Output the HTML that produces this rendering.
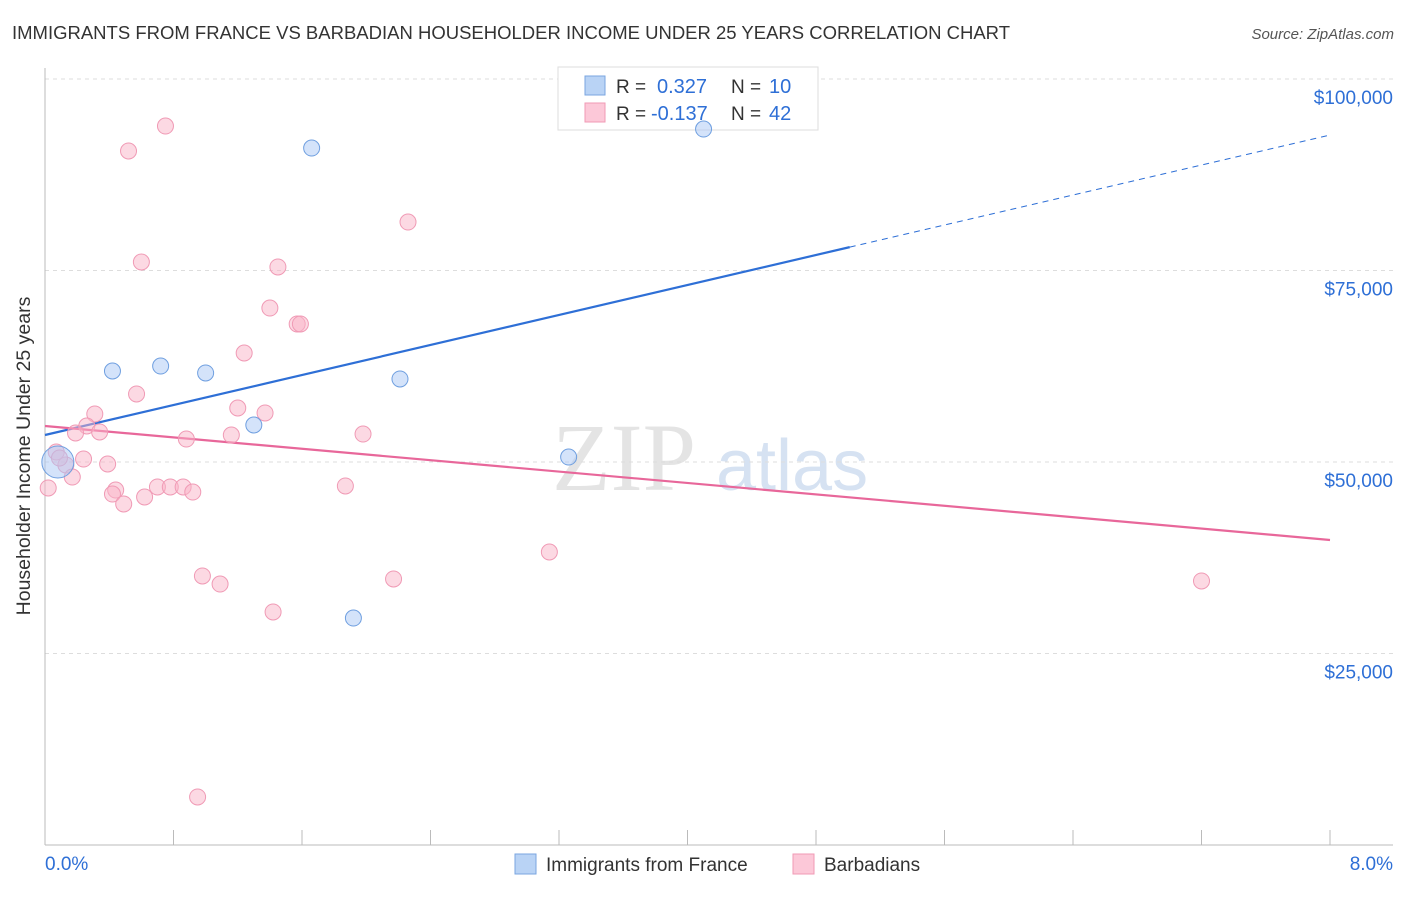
<!DOCTYPE html>
<html><head><meta charset="utf-8"><style>
body{margin:0;background:#fff;font-family:"Liberation Sans",sans-serif}
</style></head><body>
<svg id="c" width="1406" height="892" xmlns="http://www.w3.org/2000/svg">
<text x="12" y="39" font-size="18" fill="#333" textLength="998" lengthAdjust="spacingAndGlyphs">IMMIGRANTS FROM FRANCE VS BARBADIAN HOUSEHOLDER INCOME UNDER 25 YEARS CORRELATION CHART</text>
<text x="1394" y="39" font-size="15" fill="#555" text-anchor="end" font-style="italic">Source: ZipAtlas.com</text>
<text x="30" y="456" font-size="19.5" fill="#333" text-anchor="middle" transform="rotate(-90 30 456)">Householder Income Under 25 years</text>
<g><text x="552" y="490" font-size="96" fill="#e4e4e4" font-family="Liberation Serif,serif">ZIP</text><text x="716" y="490" font-size="72" fill="#d6e2f2">atlas</text></g>
<g id="grid"></g><g id="axes"></g>
<g>
<rect x="558" y="67" width="260" height="63" fill="#fff" stroke="#ddd"/>
<rect x="585" y="76" width="20" height="19" fill="#b9d3f5" stroke="#7aa6e0"/>
<rect x="585" y="103" width="20" height="19" fill="#fcc8d8" stroke="#f09ab5"/>
<text x="616" y="93" font-size="19" fill="#333">R =</text>
<text x="657" y="93" font-size="20" fill="#2e6fd6">0.327</text>
<text x="731" y="93" font-size="19" fill="#333">N =</text>
<text x="769" y="93" font-size="20" fill="#2e6fd6">10</text>
<text x="616" y="120" font-size="19" fill="#333">R =</text>
<text x="651" y="120" font-size="20" fill="#2e6fd6">-0.137</text>
<text x="731" y="120" font-size="19" fill="#333">N =</text>
<text x="769" y="120" font-size="20" fill="#2e6fd6">42</text>
</g>
<g id="lines"></g><g id="pts"></g>
<g>
<rect x="515" y="854" width="21" height="20" fill="#b9d3f5" stroke="#7aa6e0"/>
<text x="546" y="871" font-size="19" fill="#333">Immigrants from France</text>
<rect x="793" y="854" width="21" height="20" fill="#fcc8d8" stroke="#f09ab5"/>
<text x="824" y="871" font-size="19" fill="#333">Barbadians</text>
</g>
</svg>
<script>
const blueX=[0.08,0.42,0.72,1.00,1.30,1.66,1.92,2.21,3.26,4.10];
const blueY=[50000,61880,62530,61620,54830,90990,29630,60840,50650,93470];
const pinkX=[0.52,0.75,0.60,1.45,1.40,1.57,1.59,1.24,0.57,1.20,0.31,1.37,0.26,0.34,0.19,1.98,1.16,0.88,2.26,0.07,0.24,0.13,0.39,0.17,0.02,0.44,0.42,0.70,0.78,0.86,0.92,0.62,0.49,1.87,3.14,0.98,1.09,2.17,1.42,7.20,0.95,0.09];
const pinkY=[90600,93860,76110,75460,70100,68020,68020,64230,58880,57050,56270,56400,54700,53920,53790,53650,53520,53000,81330,51310,50390,49610,49740,48040,46610,46340,45820,46740,46740,46740,46080,45430,44520,46870,38250,35120,34070,34730,30420,34470,6270,50520];
const blueTrend=[53525,92690];
const pinkTrend=[54700,39820];
const yTicks=[25000,50000,75000,100000];
const yTickLabels=["$25,000","$50,000","$75,000","$100,000"];
const xTickLabels=["0.0%","8.0%"];
const NS="http://www.w3.org/2000/svg";
const X=v=>45+v*160.625, Y=v=>462-(v-50000)*191.5/25000;
function mk(p,t,a){const e=document.createElementNS(NS,t);for(const k in a)e.setAttribute(k,a[k]);document.getElementById(p).appendChild(e);return e;}
yTicks.forEach((t,i)=>{
 const l=mk('grid','line',{x1:45,x2:1393,y1:Y(t),y2:Y(t),stroke:'#ddd','stroke-dasharray':'4 4'});
 
 
 const tx=mk('grid','text',{x:1393,y:Y(t)+25,'font-size':19,fill:'#2e6fd6','text-anchor':'end'});tx.textContent=yTickLabels[i];
 
 
});
mk('axes','line',{x1:45,x2:45,y1:68,y2:845,stroke:'#bbb'});
mk('axes','line',{x1:45,x2:1393,y1:845,y2:845,stroke:'#bbb'});
for(let i=0;i<=10;i++){const t=mk('axes','line',{x1:X(i*0.8),x2:X(i*0.8),y1:830,y2:845,stroke:'#bbb'});
 
 }
[[0,'start',45],[1,'end',1393]].forEach(([i,a,x])=>{const t=mk('axes','text',{x:x,y:870,'font-size':19,fill:'#2e6fd6','text-anchor':a});t.textContent=xTickLabels[i];
 
 });
const bAt=x=>blueTrend[0]+(blueTrend[1]-blueTrend[0])*x/8;
let l=mk('lines','line',{x1:X(0),y1:Y(bAt(0)),x2:X(5.01),y2:Y(bAt(5.01)),stroke:'#2e6fd6','stroke-width':2.2});


l=mk('lines','line',{x1:X(5.01),y1:Y(bAt(5.01)),x2:X(8),y2:Y(bAt(8)),stroke:'#2e6fd6','stroke-width':1,'stroke-dasharray':'6 5'});


l=mk('lines','line',{x1:X(0),y1:Y(pinkTrend[0]),x2:X(8),y2:Y(pinkTrend[1]),stroke:'#e8679a','stroke-width':2.2});


pinkX.forEach((x,i)=>{const c=mk('pts','circle',{cx:X(x),cy:Y(pinkY[i]),r:8,fill:'rgba(250,180,200,0.5)',stroke:'#f09ab5','stroke-width':1});
 
 });
blueX.forEach((x,i)=>{const c=mk('pts','circle',{cx:X(x),cy:Y(blueY[i]),r:i==0?16:8,fill:'rgba(170,200,245,0.5)',stroke:'#6f9fe0','stroke-width':1});
 
 });
</script>
</body></html>
